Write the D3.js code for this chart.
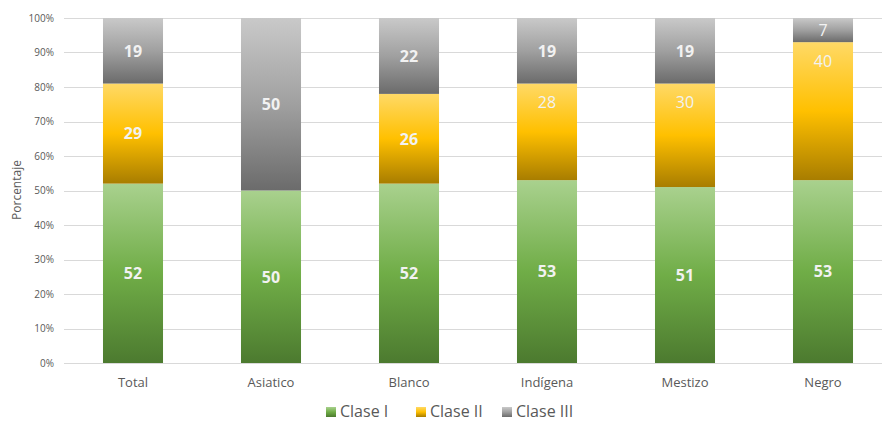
<!DOCTYPE html>
<html><head><meta charset="utf-8">
<script src="https://cdn.jsdelivr.net/npm/d3@7"></script>
<style>body{margin:0;background:#fff}svg{display:block}</style>
</head><body>
<svg id="c" width="882" height="422"></svg>
<script>
const categories = ["Total","Asiatico","Blanco","Indígena","Mestizo","Negro"];
const seriesNames = ["Clase I","Clase II","Clase III"];
const claseI   = [52,50,52,53,51,53];
const claseII  = [29,0,26,28,30,40];
const claseIII = [19,50,22,19,19,7];
// label style per series per category: "b" = bold centred, "r" = regular near top
const labelStyleII  = ["b","b","b","r","r","r"];
const labelStyleIII = ["b","b","b","b","b","r"];
const yTicks = [0,10,20,30,40,50,60,70,80,90,100];

const svg = d3.select("#c");
const font = "'Open Sans', 'Noto Sans', sans-serif";
const x = d3.scaleBand().domain(categories).range([64, 892]).paddingInner(0.565).paddingOuter(0.2825);
const y = d3.scaleLinear().domain([0,100]).range([363, 18]);

const defs = svg.append("defs");
const grads = [
  {id:"g1", stops:[["0%","#a9d18e"],["50%","#70ad47"],["100%","#4c7a2f"]]},
  {id:"g2", stops:[["0%","#ffd966"],["50%","#ffc000"],["100%","#a87d00"]]},
  {id:"g3", stops:[["0%","#c9c9c9"],["50%","#a0a0a0"],["100%","#6b6b6b"]]}
];
grads.forEach(g=>{
  const lg = defs.append("linearGradient").attr("id",g.id).attr("x1",0).attr("y1",0).attr("x2",0).attr("y2",1);
  g.stops.forEach(s=>lg.append("stop").attr("offset",s[0]).attr("stop-color",s[1]));
});

// gridlines
svg.append("g").selectAll("line").data(yTicks).join("line")
  .attr("x1",64).attr("x2",882).attr("y1",d=>Math.round(y(d))+0.5).attr("y2",d=>Math.round(y(d))+0.5)
  .attr("stroke","#d9d9d9").attr("stroke-width",1);

// y tick labels
svg.append("g").selectAll("text").data(yTicks).join("text")
  .attr("x",54).attr("y",d=>y(d)).attr("dy","0.35em").attr("text-anchor","end")
  .attr("font-family",font).attr("font-size",10).attr("fill","#595959")
  .text(d=>d+"%");

// y axis title
svg.append("text").attr("transform","translate(21,190) rotate(-90)")
  .attr("text-anchor","middle").attr("font-family",font).attr("font-size",12).attr("fill","#595959")
  .text("Porcentaje");

const rows = categories.map((c,i)=>({cat:c, "Clase I":claseI[i], "Clase II":claseII[i], "Clase III":claseIII[i], i}));
const stack = d3.stack().keys(seriesNames)(rows);
const fills = ["url(#g1)","url(#g2)","url(#g3)"];
const styles = [categories.map(()=> "b"), labelStyleII, labelStyleIII];

stack.forEach((layer,si)=>{
  const g = svg.append("g");
  g.selectAll("rect").data(layer.filter(d=>d[1]-d[0]>0)).join("rect")
    .attr("x",d=>x(d.data.cat)).attr("width",x.bandwidth())
    .attr("y",d=>y(d[1])).attr("height",d=>y(d[0])-y(d[1]))
    .attr("fill",fills[si]);
});
stack.forEach((layer,si)=>{
  const g = svg.append("g");
  g.selectAll("text").data(layer.filter(d=>d[1]-d[0]>0)).join("text")
    .attr("x",d=>x(d.data.cat)+x.bandwidth()/2)
    .attr("y",d=>{
      const st = styles[si][d.data.i];
      if(st==="r" && d[1]-d[0]>10) return y(d[1])+19;
      return (y(d[0])+y(d[1]))/2;
    })
    .attr("dy","0.36em").attr("text-anchor","middle")
    .attr("font-family",font).attr("font-size",16)
    .attr("font-weight",d=>styles[si][d.data.i]==="b"?"bold":"normal")
    .attr("fill","#f2f2f2")
    .text(d=>d[1]-d[0]);
});

// x labels
svg.append("g").selectAll("text").data(categories).join("text")
  .attr("x",d=>x(d)+x.bandwidth()/2).attr("y",382).attr("dy","0.35em").attr("text-anchor","middle")
  .attr("font-family",font).attr("font-size",13).attr("fill","#595959").text(d=>d);

// legend
const legX = [326, 416, 502];
const leg = svg.append("g");
seriesNames.forEach((s,i)=>{
  leg.append("rect").attr("x",legX[i]).attr("y",407).attr("width",10).attr("height",10).attr("fill",fills[i]);
  leg.append("text").attr("x",legX[i]+14).attr("y",411).attr("dy","0.35em")
    .attr("font-family",font).attr("font-size",16).attr("fill","#595959").text(s);
});
</script>
</body></html>
